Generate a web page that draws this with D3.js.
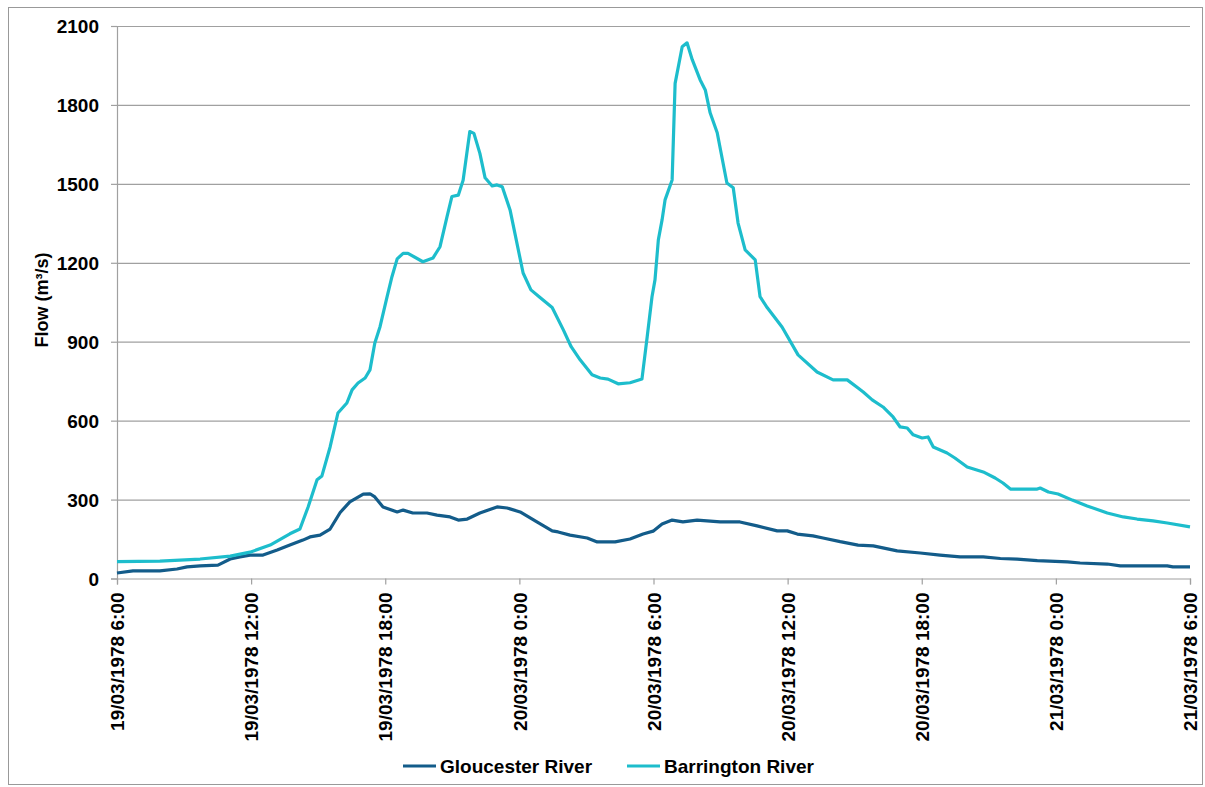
<!DOCTYPE html>
<html>
<head>
<meta charset="utf-8">
<script src="https://cdn.jsdelivr.net/npm/d3@7"></script>
<style>
  html, body { margin: 0; padding: 0; background: #fff; overflow: hidden; }
  svg { display: block; }
  svg text { font-family: "Liberation Sans", Arial, sans-serif; font-weight: bold; fill: #000; }
</style>
</head>
<body>
<div id="chart"></div>
<script>
// hours after 19/03/1978 6:00 and flow (m3/s)
const gloucesterHours = [0, 0.72, 1.92, 2.68, 3.13, 3.71, 4.52, 5.06, 5.5, 5.95, 6.53, 7.16, 7.74, 8.32, 8.64, 9.08, 9.53, 9.98,
    10.42, 11.01, 11.32, 11.54, 11.9, 12.53, 12.8, 13.24, 13.87, 14.32, 14.9, 15.26, 15.66, 16.24, 17.0, 17.45, 18.03, 18.79,
    19.46, 19.73, 20.27, 21.03, 21.48, 22.28, 22.95, 23.53, 23.98, 24.38, 24.83, 25.32, 25.95, 26.98, 27.87, 28.64, 29.53,
    29.98, 30.43, 31.14, 31.59, 32.35, 33.15, 33.83, 34.9, 35.93, 36.82, 37.72, 38.75, 39.51, 40.27, 41.16, 42.51, 43.09,
    44.3, 44.88, 46.98, 47.23, 48];
const gloucesterFlow = [21, 29, 29, 36, 44, 48, 51, 74, 82, 89, 89, 108, 127, 146, 158, 165, 188, 251,
    291, 321, 322, 310, 272, 253, 260, 249, 249, 241, 234, 222, 226, 249, 272, 268, 253, 215,
    181, 177, 165, 154, 139, 139, 150, 169, 180, 207, 222, 215, 222, 215, 215, 200, 181,
    181, 169, 162, 154, 140, 127, 124, 105, 97, 89, 82, 82, 76, 74, 68, 63, 59,
    55, 48, 48, 44, 44];

const barringtonHours = [0, 1.92, 3.71, 5.06, 5.95, 6.85, 7.74, 8.19, 8.55, 8.95, 9.17, 9.53, 9.89, 10.29, 10.51, 10.78,
    11.1, 11.32, 11.54, 11.77, 12.08, 12.3, 12.53, 12.8, 13.02, 13.69, 14.14, 14.45, 14.77, 14.99, 15.26, 15.48, 15.79,
    15.97, 16.24, 16.47, 16.78, 17.0, 17.23, 17.58, 18.17, 18.52, 18.88, 19.46, 19.96, 20.31, 20.72, 21.25, 21.61, 21.97,
    22.42, 22.95, 23.49, 23.71, 23.94, 24.07, 24.21, 24.38, 24.52, 24.83, 24.97, 25.28, 25.5, 25.73, 26.09, 26.31, 26.53,
    26.85, 27.29, 27.56, 27.79, 28.1, 28.55, 28.77, 29.08, 29.75, 30.47, 31.32, 32.04, 32.66, 33.15, 33.38, 33.78, 34.27,
    34.72, 35.03, 35.35, 35.62, 36.02, 36.29, 36.51, 37.14, 37.49, 38.03, 38.75, 39.28, 39.64, 39.96, 41.16, 41.3, 41.66,
    42.1, 42.73, 43.4, 44.3, 45.01, 45.64, 46.35, 46.98, 48];
const barringtonFlow = [64, 66, 74, 85, 100, 127, 170, 188, 272, 375, 390, 500, 629, 667, 717, 743,
    762, 793, 895, 957, 1071, 1147, 1215, 1236, 1236, 1204, 1218, 1261, 1376, 1452, 1457, 1514, 1699,
    1692, 1616, 1523, 1492, 1496, 1489, 1401, 1161, 1097, 1071, 1030, 945, 881, 831, 774, 762, 758,
    740, 744, 758, 918, 1071, 1135, 1287, 1363, 1439, 1515, 1882, 2021, 2036, 1972, 1896, 1857, 1770,
    1694, 1503, 1485, 1351, 1249, 1211, 1071, 1030, 956, 850, 785, 755, 755, 724, 709, 679, 652,
    614, 576, 572, 546, 534, 538, 500, 477, 458, 424, 405, 382, 363, 340, 340, 344, 329,
    321, 298, 276, 249, 234, 226, 219, 211, 196];

const yTicks = [0, 300, 600, 900, 1200, 1500, 1800, 2100];

const series = [
    { label: 'Gloucester River', hours: gloucesterHours, flow: gloucesterFlow, color: '#135c8a' },
    { label: 'Barrington River', hours: barringtonHours, flow: barringtonFlow, color: '#1dbdcc' }
];

const width = 1205, height = 787;
const margin = { top: 26, right: 15, bottom: 208.5, left: 117 };
const innerWidth = width - margin.left - margin.right;
const innerHeight = height - margin.top - margin.bottom;

const start = new Date(Date.UTC(1978, 2, 19, 6));
const end = d3.utcHour.offset(start, 48);
const toDate = h => d3.utcMinute.offset(start, Math.round(h * 60));

const svg = d3.select('#chart').append('svg')
    .attr('width', width)
    .attr('height', height);

// outer frame
svg.append('rect')
    .attr('x', 8.5).attr('y', 7.5)
    .attr('width', width - 11).attr('height', height - 10)
    .attr('fill', 'none')
    .attr('stroke', '#999');

const xScale = d3.scaleUtc().domain([start, end]).range([0, innerWidth]);
const yScale = d3.scaleLinear().domain([0, 2100]).range([innerHeight, 0]);

const chart = svg.append('g')
    .attr('transform', `translate(${margin.left},${margin.top})`);

// grid
chart.append('g')
    .selectAll('line')
    .data(yTicks.slice(1))
    .join('line')
    .attr('x1', 0).attr('x2', innerWidth)
    .attr('y1', d => yScale(d) + 0.5).attr('y2', d => yScale(d) + 0.5)
    .attr('stroke', '#a0a0a0')
    .attr('stroke-width', 1.2);

// y axis
const yAxis = chart.append('g')
    .call(d3.axisLeft(yScale).tickValues(yTicks).tickSize(6).tickPadding(12).tickFormat(d3.format('d')));
yAxis.select('.domain').attr('stroke', '#a0a0a0').attr('stroke-width', 1.2);
yAxis.selectAll('.tick line').attr('stroke', '#a0a0a0').attr('stroke-width', 1.2);
yAxis.selectAll('.tick text').style('font-size', '19px').attr('dy', '0.35em');

// x axis
const fmt = d3.utcFormat('%d/%m/%Y %-H:%M');
const xAxis = chart.append('g')
    .attr('transform', `translate(0,${innerHeight})`)
    .call(d3.axisBottom(xScale).ticks(d3.utcHour.every(6)).tickSize(6).tickFormat(fmt));
xAxis.select('.domain').attr('stroke', '#a0a0a0').attr('stroke-width', 1.2);
xAxis.selectAll('.tick line').attr('stroke', '#a0a0a0').attr('stroke-width', 1.2);
xAxis.selectAll('.tick text')
    .style('font-size', '19px')
    .attr('text-anchor', 'end')
    .attr('x', null)
    .attr('y', null)
    .attr('dy', '0.35em')
    .attr('transform', 'translate(0,14) rotate(-90)');

// y title
svg.append('text')
    .attr('transform', `translate(48,${margin.top + 274}) rotate(-90)`)
    .attr('text-anchor', 'middle')
    .style('font-size', '18px')
    .text('Flow (m³/s)');

// lines
const line = d3.line()
    .x(d => xScale(d.t))
    .y(d => yScale(d.v));

series.forEach(s => {
    const pts = s.hours.map((h, i) => ({ t: toDate(h), v: s.flow[i] }));
    chart.append('path')
        .datum(pts)
        .attr('d', line)
        .attr('fill', 'none')
        .attr('stroke', s.color)
        .attr('stroke-width', 3.2)
        .attr('stroke-linejoin', 'round');
});

// legend
const legendX = [403, 627];
const legend = svg.append('g').attr('transform', 'translate(0,766)');
series.forEach((s, i) => {
    const g = legend.append('g').attr('transform', `translate(${legendX[i]},0)`);
    g.append('line')
        .attr('x1', 0).attr('x2', 33)
        .attr('stroke', s.color)
        .attr('stroke-width', 3.2);
    g.append('text')
        .attr('x', 37)
        .attr('dy', '0.35em')
        .style('font-size', '19px')
        .text(s.label);
});
</script>
</body>
</html>
